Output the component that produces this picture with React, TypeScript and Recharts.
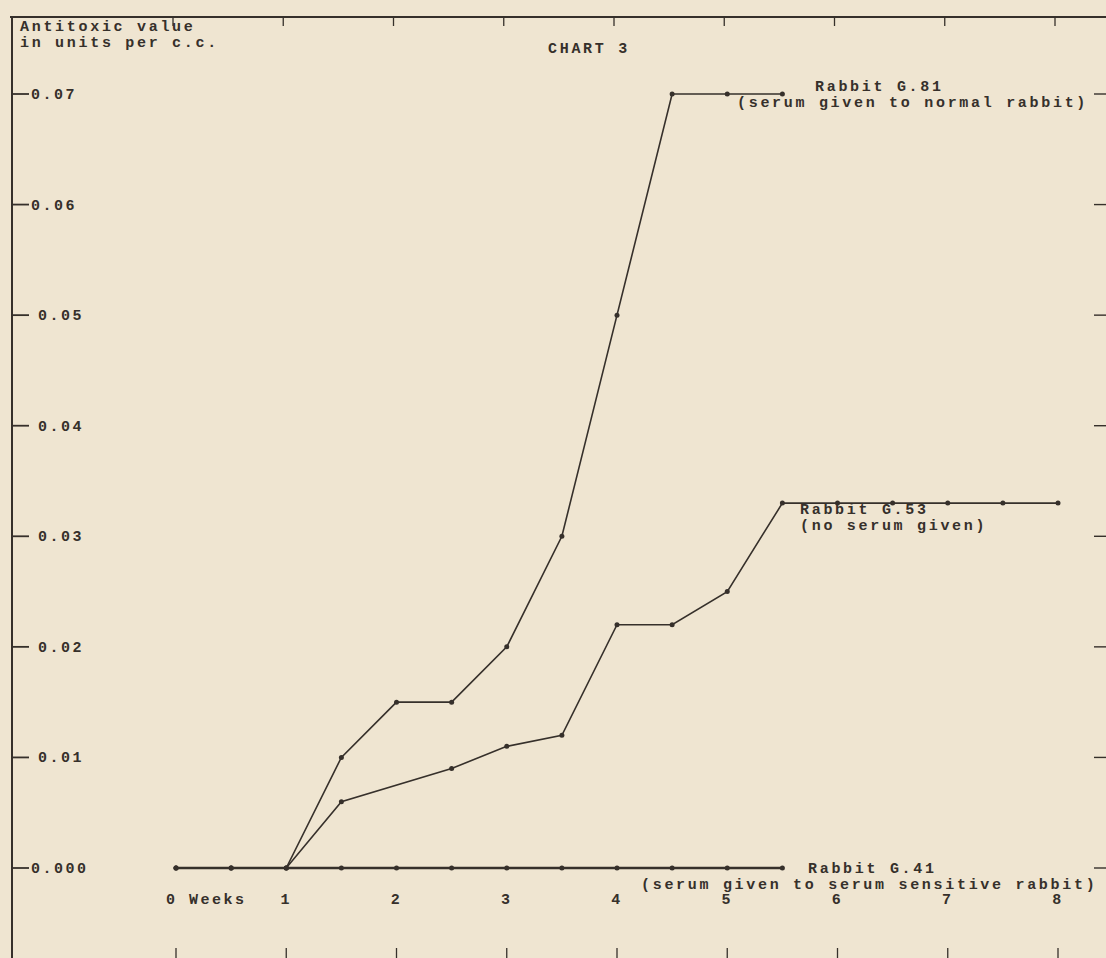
import React from "react"
import { LineChart, Line, XAxis, YAxis } from "recharts"

// weeks after injection, sampled every half week
const weeks = [0, 0.5, 1, 1.5, 2, 2.5, 3, 3.5, 4, 4.5, 5, 5.5, 6, 6.5, 7, 7.5, 8]

// antitoxic value in units per c.c.
const rabbitG81 = [0, 0, 0, 0.01, 0.015, 0.015, 0.02, 0.03, 0.05, 0.07, 0.07, 0.07, null, null, null, null, null]
const rabbitG53 = [0, 0, 0, 0.006, null, 0.009, 0.011, 0.012, 0.022, 0.022, 0.025, 0.033, 0.033, 0.033, 0.033, 0.033, 0.033]
const rabbitG41 = [0, 0, 0, 0, 0, 0, 0, 0, 0, 0, 0, 0, null, null, null, null, null]

const weekTicks = [0, 1, 2, 3, 4, 5, 6, 7, 8]
const valueTicks = [0, 0.01, 0.02, 0.03, 0.04, 0.05, 0.06, 0.07]
const valueLabels = ["0.000", "0.01", "0.02", "0.03", "0.04", "0.05", "0.06", "0.07"]

const data = weeks.map((w, i) => ({
  week: w,
  g81: rabbitG81[i],
  g53: rabbitG53[i],
  g41: rabbitG41[i],
}))

const INK = "#36302b"
const PAPER = "#efe5d1"
const FONT = "'Liberation Mono', 'Courier New', monospace"

const WeekTick = (props: any) => {
  const { x, payload } = props
  const label = payload.value === 0 ? "0 Weeks" : String(payload.value)
  return (
    <g>
      <text
        x={payload.value === 0 ? x - 10 : x}
        y={904}
        textAnchor={payload.value === 0 ? "start" : "middle"}
        fill={INK}
        fontFamily={FONT}
        fontSize={15}
        fontWeight="bold"
        letterSpacing={2.5}
      >
        {label}
      </text>
      <line x1={x} x2={x} y1={948} y2={958} stroke={INK} strokeWidth={1.3} />
      <line x1={x - 3} x2={x - 3} y1={17} y2={26} stroke={INK} strokeWidth={1.3} />
    </g>
  )
}

const ValueTick = (props: any) => {
  const { y, payload } = props
  const idx = valueTicks.indexOf(payload.value)
  const tight = payload.value === 0 || payload.value >= 0.06
  return (
    <g>
      <line x1={13} x2={29} y1={y} y2={y} stroke={INK} strokeWidth={1.8} />
      <text
        x={tight ? 31 : 38}
        y={y + 5}
        fill={INK}
        fontFamily={FONT}
        fontSize={15}
        fontWeight="bold"
        letterSpacing={2.5}
      >
        {valueLabels[idx]}
      </text>
      <line x1={1094} x2={1106} y1={y} y2={y} stroke={INK} strokeWidth={1.4} />
    </g>
  )
}

const note = (left: number, top: number, text: string) => (
  <div
    style={{
      position: "absolute",
      left,
      top,
      fontFamily: FONT,
      fontSize: 15,
      fontWeight: "bold",
      letterSpacing: 2.7,
      color: INK,
      whiteSpace: "pre",
      lineHeight: "16px",
    }}
  >
    {text}
  </div>
)

export default function App() {
  return (
    <div style={{ position: "absolute", left: 0, top: 0, width: 1106, height: 958, background: PAPER, overflow: "hidden" }}>
      {/* frame of the typed sheet */}
      <div style={{ position: "absolute", left: 10, top: 16, width: 1096, height: 2, background: INK }} />
      <div style={{ position: "absolute", left: 11, top: 16, width: 2, height: 942, background: INK }} />

      <LineChart width={1106} height={958} data={data} margin={{ top: 94, right: 48, left: 12, bottom: 30 }}>
        <XAxis
          dataKey="week"
          type="number"
          domain={[0, 8]}
          ticks={weekTicks}
          axisLine={false}
          tickLine={false}
          height={60}
          tick={<WeekTick />}
        />
        <YAxis
          type="number"
          domain={[0, 0.07]}
          ticks={valueTicks}
          axisLine={false}
          tickLine={false}
          width={164}
          tick={<ValueTick />}
        />
        <Line
          dataKey="g41"
          stroke={INK}
          strokeWidth={2.5}
          dot={{ r: 2.5, fill: INK, stroke: "none" }}
          isAnimationActive={false}
          type="linear"
        />
        <Line
          dataKey="g53"
          stroke={INK}
          strokeWidth={1.6}
          dot={{ r: 2.5, fill: INK, stroke: "none" }}
          connectNulls
          isAnimationActive={false}
          type="linear"
        />
        <Line
          dataKey="g81"
          stroke={INK}
          strokeWidth={1.6}
          dot={{ r: 2.5, fill: INK, stroke: "none" }}
          isAnimationActive={false}
          type="linear"
        />
      </LineChart>

      {note(20, 20, "Antitoxic value\nin units per c.c.")}
      {note(548, 42, "CHART 3")}
      {note(815, 80, "Rabbit G.81")}
      {note(737, 96, "(serum given to normal rabbit)")}
      {note(800, 503, "Rabbit G.53")}
      {note(800, 519, "(no serum given)")}
      {note(808, 862, "Rabbit G.41")}
      {note(641, 878, "(serum given to serum sensitive rabbit)")}
    </div>
  )
}
